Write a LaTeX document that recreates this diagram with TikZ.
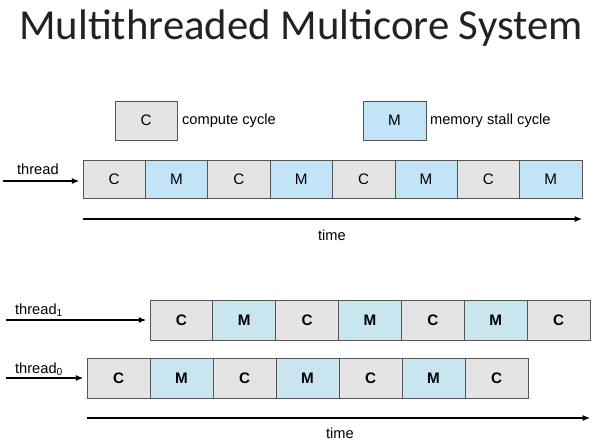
\documentclass[tikz,border=0pt]{standalone}
\usepackage{fontspec}
\setmainfont{Liberation Sans}
\newfontfamily\titlefont{Carlito}
\usetikzlibrary{arrows.meta}
\definecolor{cgray}{HTML}{E4E4E4}
\definecolor{mblue}{HTML}{C2E4F6}
\definecolor{mblue2}{HTML}{C9E6F0}
\definecolor{edgegray}{HTML}{555555}
\definecolor{titlegray}{HTML}{222222}

\begin{document}
\begin{tikzpicture}[x=0.03cm, y=-0.03cm, every node/.style={font=\fontsize{12.5}{14}\selectfont}, cyc/.style={draw=edgegray, line width=0.6pt, minimum width=1.87cm, minimum height=1.14cm, inner sep=0pt, font=\fontsize{13}{15}\selectfont}, cbox/.style={cyc, fill=cgray}, mbox/.style={cyc, fill=mblue}, cboxb/.style={cbox, font=\fontsize{13}{15}\selectfont\bfseries}, mboxb/.style={cyc, fill=mblue2, font=\fontsize{13}{15}\selectfont\bfseries}, arr/.style={-{Latex[length=2.2mm,width=1.8mm]}, line width=0.9pt}]
\useasboundingbox (0,0) rectangle (614,440);
\node[font=\titlefont\fontsize{36.5}{44}\selectfont, text=titlegray] (title) at (301,28) {Multithreaded Multicore System};
% legend
\node[cbox, minimum width=1.86cm, minimum height=1.17cm] (legc) at (146,120.5) {C};
\node[anchor=west] (legctxt) at (178,121) {compute cycle};
\node[mbox, minimum width=1.89cm, minimum height=1.17cm] (legm) at (394.5,120.5) {M};
\node[anchor=west] (legmtxt) at (426,121) {memory stall cycle};
% single thread
\foreach \k/\s [count=\i from 0] in {C/cbox,M/mbox,C/cbox,M/mbox,C/cbox,M/mbox,C/cbox,M/mbox}
  \node[\s] (a\i) at ({114.2+62.375*\i},179) {\k};
\coordinate (ain) at (3,181);
\draw[arr] (ain) -- (ain -| a0.west) [shorten >=3pt];
\node[anchor=west] (alab) at (13,169) {thread};
\coordinate (ats) at (83,219);
\coordinate (ate) at (582,219);
\draw[arr] (ats) -- (ate);
\node (atime) at (332,235) {time};
% two threads
\foreach \k/\s [count=\i from 0] in {C/cboxb,M/mboxb,C/cboxb,M/mboxb,C/cboxb,M/mboxb,C/cboxb}
  \node[\s, minimum width=1.886cm, minimum height=1.2cm] (b\i) at ({181.4+62.86*\i},320) {\k};
\foreach \k/\s [count=\i from 0] in {C/cboxb,M/mboxb,C/cboxb,M/mboxb,C/cboxb,M/mboxb,C/cboxb}
  \node[\s, minimum width=1.89cm, minimum height=1.2cm] (c\i) at ({118.5+63*\i},378) {\k};
\coordinate (bin) at (6,320);
\draw[arr] (bin) -- (bin -| b0.west) [shorten >=3pt];
\node[anchor=west] (blab) at (11,310) {thread\textsubscript{1}};
\coordinate (cin) at (6,378);
\draw[arr] (cin) -- (cin -| c0.west) [shorten >=3pt];
\node[anchor=west] (clab) at (11,369) {thread\textsubscript{0}};
\coordinate (bts) at (87,418);
\coordinate (bte) at (590,418);
\draw[arr] (bts) -- (bte);
\node (btime) at (340,433) {time};
\end{tikzpicture}
\end{document}
